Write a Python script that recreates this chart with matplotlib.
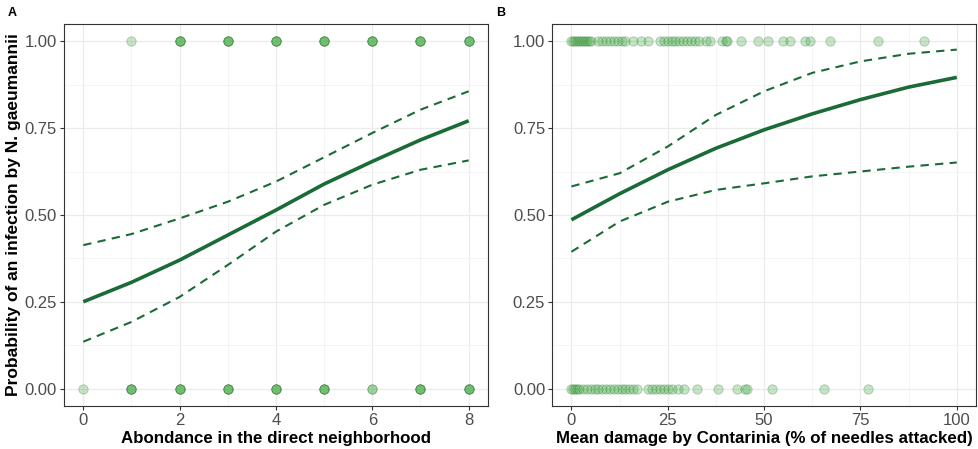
import matplotlib.pyplot as plt
import numpy as np

plt.rcParams['font.family'] = ['Liberation Sans', 'DejaVu Sans']

# Panel A: abundance in the neighborhood
abund_inf = [1, 2, 2, 2, 2, 3, 3, 3, 3, 4, 4, 4, 4, 5, 5, 5, 5, 6, 6, 6, 6, 7, 7, 7, 7, 8, 8, 8, 8]
abund_noinf = [0, 1, 1, 1, 1, 2, 2, 2, 2, 3, 3, 3, 3, 4, 4, 4, 4, 5, 5, 5, 5, 6, 6, 7, 7, 7, 7, 8, 8, 8, 8]
abund_x = [0, 1, 2, 3, 4, 5, 6, 7, 8]
abund_fit = [0.250, 0.306, 0.370, 0.442, 0.514, 0.589, 0.654, 0.716, 0.771]
abund_upr = [0.413, 0.445, 0.490, 0.538, 0.596, 0.666, 0.736, 0.803, 0.856]
abund_lwr = [0.135, 0.192, 0.264, 0.356, 0.452, 0.529, 0.587, 0.630, 0.657]

# Panel B: Contarinia damage
dmg_inf = [0, 0.5, 1, 1.5, 2, 2.5, 3, 3.5, 4, 4.5, 5, 7, 8, 9, 10, 11, 12, 13, 14,
           16, 18, 20, 23, 24, 25, 26, 27, 28, 29, 30, 31, 32, 33, 35, 36,
           39, 40, 40.5, 44, 48.5, 51, 55, 56.7, 60.6, 62, 67, 79.5, 91.5]
dmg_noinf = [0, 0.5, 1, 1.5, 2, 3, 4, 5, 6, 7, 8, 9, 10, 11, 12, 13, 14, 15, 16, 17,
             20, 21, 22, 23, 24, 25, 26, 27.7, 29.3, 32.6, 38, 43, 45, 45.5, 52, 65.5, 77]
dmg_x = [0, 12.5, 25, 37.5, 50, 62.5, 75, 87.5, 100]
dmg_fit = [0.486, 0.561, 0.630, 0.692, 0.745, 0.791, 0.832, 0.868, 0.896]
dmg_upr = [0.582, 0.620, 0.697, 0.788, 0.856, 0.909, 0.942, 0.964, 0.976]
dmg_lwr = [0.394, 0.481, 0.538, 0.572, 0.591, 0.611, 0.625, 0.639, 0.651]

line_col = '#1a6b38'
pt_face = '#4caf50'
pt_edge = '#2e6b30'

fig = plt.figure(figsize=(9.79, 4.49), dpi=100)
axA = fig.add_axes([0.0654, 0.0958, 0.433, 0.851])
axB = fig.add_axes([0.564, 0.0958, 0.433, 0.851])


def draw_panel(ax, x1, x0, xc, fit, upr, lwr, xlim, xticks, xlabel):
    ax.scatter(x1, np.ones(len(x1)), s=45, color=pt_face, edgecolors=pt_edge,
               linewidths=0.6, alpha=0.32, zorder=3)
    ax.scatter(x0, np.zeros(len(x0)), s=45, color=pt_face, edgecolors=pt_edge,
               linewidths=0.6, alpha=0.32, zorder=3)
    ax.plot(xc, fit, color=line_col, lw=2.6, zorder=4, solid_capstyle='butt')
    ax.plot(xc, upr, color=line_col, lw=1.5, ls=(0, (4, 3)), zorder=4)
    ax.plot(xc, lwr, color=line_col, lw=1.5, ls=(0, (4, 3)), zorder=4)
    ax.set_xticks(xticks)
    ax.set_yticks([0, 0.25, 0.5, 0.75, 1.0])
    ax.set_yticklabels(['0.00', '0.25', '0.50', '0.75', '1.00'])
    step = xticks[1] - xticks[0]
    ax.set_xticks(np.arange(xticks[0] - step / 2, xticks[-1] + step, step), minor=True)
    ax.set_yticks(np.arange(-0.125, 1.126, 0.25), minor=True)
    ax.set_xlim(xlim)
    ax.set_ylim(-0.05, 1.05)
    ax.grid(True, which='major', color='#ebebeb', lw=0.9, zorder=0)
    ax.grid(True, which='minor', color='#f3f3f3', lw=0.6, zorder=0)
    ax.set_axisbelow(True)
    ax.tick_params(which='minor', length=0)
    ax.tick_params(which='major', length=3, color='#333333', labelsize=12,
                   labelcolor='#4d4d4d', pad=2)
    for sp in ax.spines.values():
        sp.set_color('#333333')
        sp.set_linewidth(0.8)
    ax.set_xlabel(xlabel, fontsize=12.2, fontweight='bold', labelpad=2)


draw_panel(axA, abund_inf, abund_noinf, abund_x, abund_fit, abund_upr, abund_lwr,
           (-0.4, 8.4), [0, 2, 4, 6, 8], 'Abondance in the direct neighborhood')
draw_panel(axB, dmg_inf, dmg_noinf, dmg_x, dmg_fit, dmg_upr, dmg_lwr,
           (-5, 105), [0, 25, 50, 75, 100], 'Mean damage by Contarinia (% of needles attacked)')
axA.set_ylabel('Probability of an infection by N. gaeumannii', fontsize=12.5,
               fontweight='bold', labelpad=3)

fig.text(0.008, 0.985, 'A', fontsize=9, fontweight='bold', va='top')
fig.text(0.507, 0.985, 'B', fontsize=9, fontweight='bold', va='top')

fig.savefig('out.png', dpi=100)
